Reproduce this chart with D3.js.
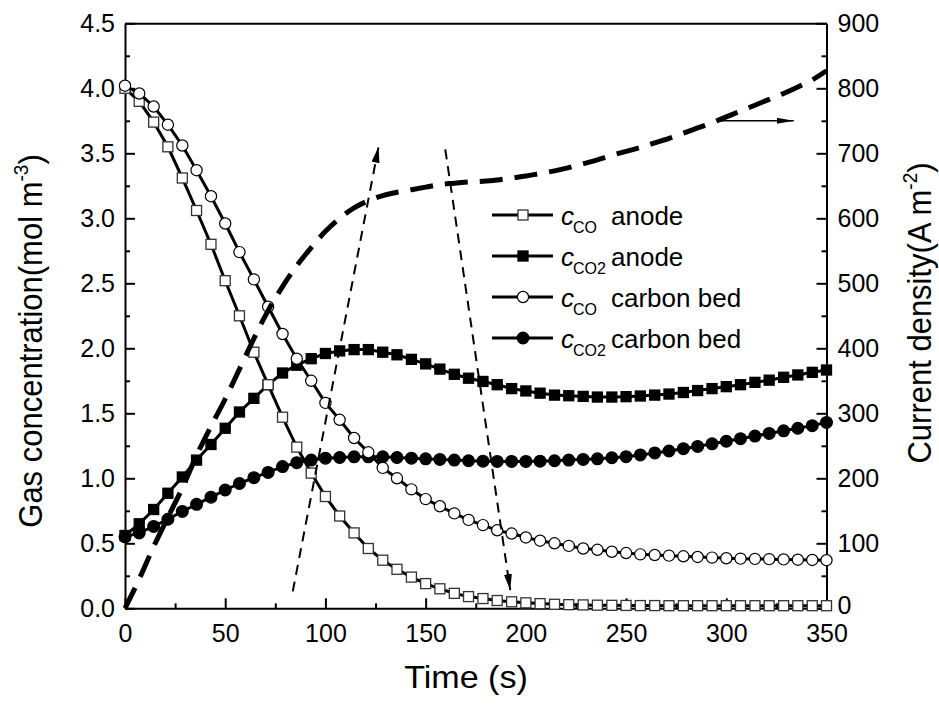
<!DOCTYPE html>
<html><head><meta charset="utf-8">
<script src="https://cdn.jsdelivr.net/npm/d3@7"></script>
<style>body{margin:0;background:#fff}</style>
</head><body>
<svg id="chart" width="939" height="708"></svg>
<script>
// ---------- data ----------
const times = [0, 7.1, 14.3, 21.4, 28.6, 35.7, 42.9, 50, 57.1, 64.3, 71.4, 78.6, 85.7, 92.9, 100,
  107.1, 114.3, 121.4, 128.6, 135.7, 142.9, 150, 157.1, 164.3, 171.4, 178.6, 185.7, 192.9, 200,
  207.1, 214.3, 221.4, 228.6, 235.7, 242.9, 250, 257.1, 264.3, 271.4, 278.6, 285.7, 292.9, 300,
  307.1, 314.3, 321.4, 328.6, 335.7, 342.9, 350];
const coAnode = [4.00, 3.90, 3.74, 3.55, 3.31, 3.06, 2.80, 2.52, 2.25, 1.97, 1.72, 1.47, 1.24, 1.04, 0.86,
  0.71, 0.58, 0.46, 0.37, 0.30, 0.24, 0.19, 0.15, 0.115, 0.09, 0.075, 0.06, 0.05, 0.042,
  0.036, 0.031, 0.028, 0.026, 0.024, 0.023, 0.022, 0.021, 0.021, 0.02, 0.02, 0.02, 0.02, 0.02,
  0.02, 0.02, 0.02, 0.02, 0.02, 0.02, 0.02];
const co2Anode = [0.56, 0.65, 0.76, 0.885, 1.01, 1.14, 1.26, 1.385, 1.51, 1.615, 1.72, 1.81, 1.87, 1.92, 1.96,
  1.98, 1.99, 1.99, 1.97, 1.95, 1.915, 1.88, 1.84, 1.80, 1.77, 1.745, 1.72, 1.69, 1.672,
  1.655, 1.64, 1.635, 1.63, 1.625, 1.625, 1.628, 1.633, 1.64, 1.648, 1.66, 1.675, 1.69, 1.705,
  1.72, 1.738, 1.755, 1.777, 1.795, 1.815, 1.833];
const coBed = [4.02, 3.96, 3.86, 3.72, 3.56, 3.37, 3.17, 2.96, 2.74, 2.53, 2.32, 2.11, 1.92, 1.75, 1.58,
  1.45, 1.31, 1.20, 1.08, 1.00, 0.915, 0.84, 0.785, 0.73, 0.68, 0.64, 0.60, 0.575, 0.545,
  0.52, 0.50, 0.48, 0.46, 0.45, 0.435, 0.425, 0.415, 0.41, 0.405, 0.40, 0.395, 0.39, 0.385,
  0.382, 0.38, 0.378, 0.376, 0.374, 0.372, 0.37];
const co2Bed = [0.55, 0.58, 0.63, 0.685, 0.745, 0.80, 0.855, 0.91, 0.96, 1.005, 1.045, 1.09, 1.12, 1.14, 1.155,
  1.16, 1.165, 1.165, 1.165, 1.16, 1.155, 1.15, 1.145, 1.14, 1.135, 1.132, 1.13, 1.13, 1.13,
  1.132, 1.135, 1.14, 1.145, 1.15, 1.158, 1.166, 1.18, 1.195, 1.21, 1.228, 1.245, 1.265, 1.285,
  1.305, 1.325, 1.345, 1.365, 1.385, 1.405, 1.43];
const currentDensity = [0, 45, 95, 140, 185, 235, 280, 322, 368, 415, 458, 495, 527, 555, 580,
  600, 616, 627, 635, 640, 644, 648, 652, 654, 656, 657, 659, 662, 665,
  669, 673, 678, 684, 690, 697, 703, 709, 716, 723, 731, 739, 747, 756,
  765, 774, 783, 792, 802, 813, 827];

const xTicks = [0, 50, 100, 150, 200, 250, 300, 350];
const xMinorTicks = [25, 75, 125, 175, 225, 275, 325];
const yLeftTicks = [0, 0.5, 1.0, 1.5, 2.0, 2.5, 3.0, 3.5, 4.0, 4.5];
const yLeftMinorTicks = [0.25, 0.75, 1.25, 1.75, 2.25, 2.75, 3.25, 3.75, 4.25];
const yRightTicks = [0, 100, 200, 300, 400, 500, 600, 700, 800, 900];
const yRightMinorTicks = [50, 150, 250, 350, 450, 550, 650, 750, 850];

const legendSubs = ["CO", "CO2", "CO", "CO2"];
const legendLabels = ["anode", "anode", "carbon bed", "carbon bed"];

// annotation arrows (data coordinates)
const arrowUp = {t1: 83.7, c1: 0.13, t2: 126.5, c2: 3.55};
const arrowDown = {t1: 159.8, c1: 3.53, t2: 192.2, c2: 0.14};
const arrowRight = {t1: 296.2, j1: 750, t2: 333.7, j2: 750};

// ---------- layout ----------
const FONT = "'Liberation Sans', Arial, Helvetica, sans-serif";
const X0 = 125, X1 = 826.5, YT = 23.3, YB = 608.3;
const svg = d3.select("#chart");
svg.append("rect").attr("width", 939).attr("height", 708).attr("fill", "#fff");

const x = d3.scaleLinear().domain([0, 350]).range([X0, X1]);
const yL = d3.scaleLinear().domain([0, 4.5]).range([YB, YT]);
const yR = d3.scaleLinear().domain([0, 900]).range([YB, YT]);

function styleAxis(g, showDomain) {
  g.attr("font-family", FONT).attr("font-size", 25);
  g.selectAll("path.domain").attr("stroke", showDomain ? "#000" : "none").attr("stroke-width", 2);
  g.selectAll(".tick line").attr("stroke", "#000").attr("stroke-width", 2);
  g.selectAll(".tick text").attr("fill", "#000");
}

// minor ticks
svg.append("g").attr("transform", `translate(0,${YB})`)
  .call(d3.axisBottom(x).tickValues(xMinorTicks).tickFormat(() => "").tickSizeInner(-5).tickSizeOuter(0))
  .call(g => styleAxis(g, false));
svg.append("g").attr("transform", `translate(${X0},0)`)
  .call(d3.axisLeft(yL).tickValues(yLeftMinorTicks).tickFormat(() => "").tickSizeInner(-5).tickSizeOuter(0))
  .call(g => styleAxis(g, false));
svg.append("g").attr("transform", `translate(${X1},0)`)
  .call(d3.axisRight(yR).tickValues(yRightMinorTicks).tickFormat(() => "").tickSizeInner(-5).tickSizeOuter(0))
  .call(g => styleAxis(g, false));

// major axes
svg.append("g").attr("transform", `translate(0,${YB})`)
  .call(d3.axisBottom(x).tickValues(xTicks).tickFormat(d3.format("d")).tickSizeInner(-10).tickSizeOuter(0).tickPadding(16))
  .call(g => styleAxis(g, true));
svg.append("g").attr("transform", `translate(0,${YT})`)
  .call(d3.axisTop(x).tickValues([]).tickSizeOuter(0))
  .call(g => styleAxis(g, true));
svg.append("g").attr("transform", `translate(${X0},0)`)
  .call(d3.axisLeft(yL).tickValues(yLeftTicks).tickFormat(d3.format(".1f")).tickSizeInner(-10).tickSizeOuter(0).tickPadding(10))
  .call(g => styleAxis(g, true));
svg.append("g").attr("transform", `translate(${X1},0)`)
  .call(d3.axisRight(yR).tickValues(yRightTicks).tickFormat(d3.format("d")).tickSizeInner(-10).tickSizeOuter(0).tickPadding(11))
  .call(g => styleAxis(g, true))
  .call(g => g.selectAll(".tick text").filter(d => d === 0).attr("dy", "0.2em"));

// axis titles
const titleSize = 31, stretch = 1.1;
svg.append("text").attr("font-family", FONT).attr("font-size", titleSize).attr("text-anchor", "middle")
  .attr("transform", `translate(466,688) scale(${stretch},1)`).text("Time (s)");

const lt = svg.append("text").attr("font-family", FONT).attr("font-size", titleSize).attr("text-anchor", "middle")
  .attr("transform", `translate(42,341) scale(${stretch},1) rotate(-90)`);
lt.append("tspan").text("Gas concentration(mol m");
lt.append("tspan").attr("font-size", 19).attr("dy", -13).text("-3");
lt.append("tspan").attr("dy", 13).text(")");

const rt = svg.append("text").attr("font-family", FONT).attr("font-size", titleSize).attr("text-anchor", "middle")
  .attr("transform", `translate(931,313) scale(${stretch},1) rotate(-90)`);
rt.append("tspan").text("Current density(A m");
rt.append("tspan").attr("font-size", 19).attr("dy", -13).text("-2");
rt.append("tspan").attr("dy", 13).text(")");

// ---------- series ----------
function drawMarker(g, type, filled, cx, cy) {
  if (type === "square") {
    g.append("rect").attr("x", cx - 5).attr("y", cy - 5).attr("width", 10).attr("height", 10)
      .attr("fill", filled ? "#000" : "#fff").attr("stroke", filled ? "#000" : "#333").attr("stroke-width", 1.3);
  } else {
    g.append("circle").attr("cx", cx).attr("cy", cy).attr("r", filled ? 5.9 : 5.6)
      .attr("fill", filled ? "#000" : "#fff").attr("stroke", "#000").attr("stroke-width", 1.2);
  }
}

const seriesDefs = [
  {vals: co2Bed, type: "circle", filled: true},
  {vals: co2Anode, type: "square", filled: true},
  {vals: coAnode, type: "square", filled: false},
  {vals: coBed, type: "circle", filled: false}
];
const lineGen = d3.line().x((d, i) => x(times[i])).y(d => yL(d));
seriesDefs.forEach(s => {
  const g = svg.append("g");
  g.append("path").attr("d", lineGen(s.vals)).attr("fill", "none").attr("stroke", "#000").attr("stroke-width", 3);
  s.vals.forEach((v, i) => drawMarker(g, s.type, s.filled, x(times[i]), yL(v)));
});

// current density (right axis)
const curGen = d3.line().curve(d3.curveMonotoneX).x((d, i) => x(times[i])).y(d => yR(d));
svg.append("path").attr("d", curGen(currentDensity)).attr("fill", "none").attr("stroke", "#000")
  .attr("stroke-width", 5).attr("stroke-dasharray", "23,12");

// arrowheads
const defs = svg.append("defs");
defs.append("marker").attr("id", "ah").attr("viewBox", "0 0 16 8").attr("refX", 16).attr("refY", 4)
  .attr("markerWidth", 16).attr("markerHeight", 8).attr("markerUnits", "userSpaceOnUse").attr("orient", "auto")
  .append("path").attr("d", "M0,0 L16,4 L0,8 Z").attr("fill", "#000");
defs.append("marker").attr("id", "ah2").attr("viewBox", "0 0 17 6").attr("refX", 17).attr("refY", 3)
  .attr("markerWidth", 17).attr("markerHeight", 6).attr("markerUnits", "userSpaceOnUse").attr("orient", "auto")
  .append("path").attr("d", "M0,0 L17,3 L0,6 Z").attr("fill", "#000");

[arrowUp, arrowDown].forEach(a => {
  svg.append("line").attr("x1", x(a.t1)).attr("y1", yL(a.c1)).attr("x2", x(a.t2)).attr("y2", yL(a.c2))
    .attr("stroke", "#000").attr("stroke-width", 2).attr("stroke-dasharray", "10,7").attr("marker-end", "url(#ah)");
});
svg.append("line").attr("x1", x(arrowRight.t1)).attr("y1", yR(arrowRight.j1)).attr("x2", x(arrowRight.t2)).attr("y2", yR(arrowRight.j2))
  .attr("stroke", "#000").attr("stroke-width", 1.5).attr("marker-end", "url(#ah2)");

// ---------- legend ----------
const legendOrder = [
  {type: "square", filled: false},
  {type: "square", filled: true},
  {type: "circle", filled: false},
  {type: "circle", filled: true}
];
legendOrder.forEach((d, i) => {
  const ly = 215 + 41 * i;
  const g = svg.append("g");
  g.append("line").attr("x1", 492).attr("x2", 553).attr("y1", ly).attr("y2", ly).attr("stroke", "#000").attr("stroke-width", 3);
  drawMarker(g, d.type, d.filled, 523, ly);
  g.append("text").attr("font-family", FONT).attr("font-size", 26).attr("font-style", "italic")
    .attr("x", 561).attr("y", ly + 10).text("c");
  g.append("text").attr("font-family", FONT).attr("font-size", 16)
    .attr("x", 573).attr("y", ly + 18).text(legendSubs[i]);
  g.append("text").attr("font-family", FONT).attr("font-size", 26)
    .attr("x", 611).attr("y", ly + 10).text(legendLabels[i]);
});
</script>
</body></html>
